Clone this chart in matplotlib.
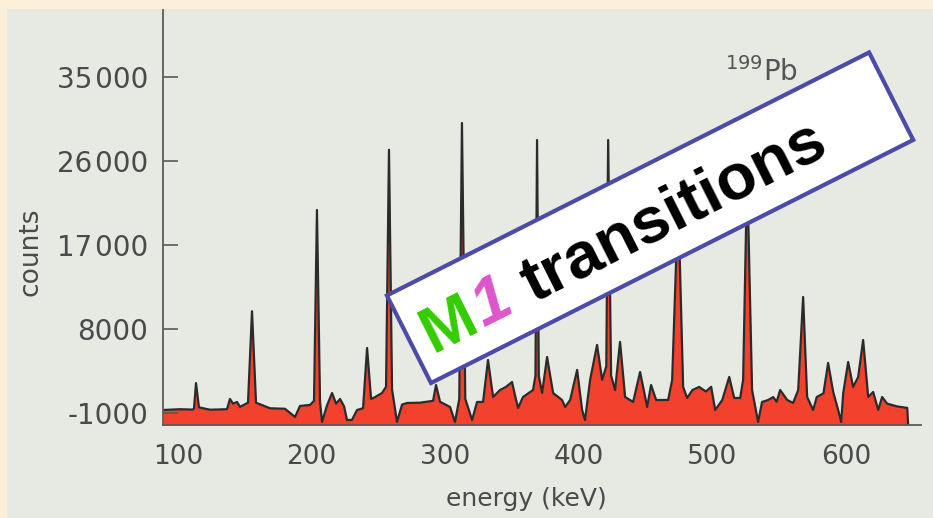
import numpy as np
import matplotlib
matplotlib.use('Agg')
import matplotlib.pyplot as plt
from matplotlib.patches import Rectangle
from matplotlib.transforms import IdentityTransform

# spectrum outline (keV, counts)
energy = [88.8, 101.5, 111.2, 112.0, 113.5, 115.7, 124.0, 136.7, 138.9, 141.2,
          144.2, 146.4, 152.4, 155.4, 158.4, 168.9, 180.1, 187.6, 191.3, 198.8,
          201.8, 204.0, 206.3, 207.8, 211.5, 215.3, 218.3, 221.3, 224.3, 226.5,
          230.2, 234.0, 238.5, 241.5, 244.5, 247.5, 252.7, 255.7, 257.9, 260.2,
          263.9, 267.7, 271.4, 281.1, 290.9, 293.1, 296.1, 303.6, 307.3, 310.5,
          312.5, 315.0, 320.1, 323.8, 328.3, 332.0, 335.8, 341.0, 345.5, 350.0,
          352.0, 354.5, 358.2, 365.7, 367.5, 368.7, 370.0, 372.5, 376.2, 380.7,
          387.4, 389.7, 393.5, 398.7, 402.4, 404.6, 408.4, 413.6, 417.4, 420.5,
          421.9, 424.1, 427.1, 430.8, 434.6, 440.6, 445.8, 451.1, 454.0, 457.8,
          466.8, 469.8, 474.3, 478.0, 481.0, 485.0, 490.0, 495.0, 499.0, 502.0,
          507.3, 512.5, 516.2, 520.7, 522.9, 525.9, 529.6, 534.1, 537.1, 541.6,
          545.4, 548.0, 550.6, 555.9, 560.3, 564.1, 567.8, 570.8, 575.3, 578.0,
          583.0, 586.5, 590.3, 594.0, 596.3, 597.8, 601.5, 605.2, 609.0, 612.7,
          616.5, 620.2, 624.0, 626.9, 630.7, 638.2, 645.7, 646.4]
counts = [-680, -600, -640, -500, 2200, -400, -650, -600, 500, 0,
          180, -350, 100, 9900, 100, -500, -550, -1430, -250, -140,
          300, 20750, 200, -1960, -200, 1140, 0, 500, -300, -1750,
          -1750, -680, -500, 5960, 500, 700, 1140, 1800, 27200, 1500,
          -1960, -100, 70, 100, 300, 2000, 200, -360, -1960, 500,
          30070, 500, -1750, 180, 180, 4680, 710, 1460, 1800, 2320,
          1000, -460, 710, 1460, 3000, 28250, 3000, 1140, 5000, 1140,
          390, -360, 400, 3610, -680, -1750, 2540, 6290, 2540, 4000,
          28250, 3000, 1460, 6610, 710, 180, 3390, -360, 2000, 390,
          390, 2540, 22000, 1790, 610, 1460, 1790, 1300, 1800, -680,
          390, 2860, 610, 610, 2540, 25000, 1460, -1960, 180, 390,
          700, 200, 1460, 390, 70, 1460, 11430, 710, -680, 710,
          1100, 4360, 1250, -680, -1960, 1140, 4460, 1790, 2860, 6820,
          710, 1250, -680, 710, 0, -300, -460, -2290]

yticks = [-1000, 8000, 17000, 26000, 35000]
ytick_labels = ['-1000', '8000', '17\u200a000', '26\u200a000', '35\u200a000']
xticks = [100, 200, 300, 400, 500, 600]

grey = '#4a4a4a'
floor = -2290

fig = plt.figure(figsize=(9.33, 5.18), dpi=100, facecolor='#fcefd9')
# scanned panel
fig.add_artist(Rectangle((7 / 933, 0), 1, 1 - 9 / 518, transform=fig.transFigure,
                         fc='#e7eae3', ec='none', zorder=0))

ax = fig.add_axes([163 / 933, 93 / 518, 758 / 933, 415 / 518])
ax.set_facecolor('none')
ax.fill_between(energy, counts, floor, color='#f2412c', lw=0)
ax.plot(energy, counts, color='#2b2b2b', lw=1.6)

ax.set_xlim(88.8, 656)
ax.set_ylim(floor, 42180)
for s in ['top', 'right']:
    ax.spines[s].set_visible(False)
for s in ['left', 'bottom']:
    ax.spines[s].set_color('#5a5a5a')
    ax.spines[s].set_linewidth(1.3)

ax.set_yticks(yticks)
ax.set_yticklabels(ytick_labels)
ax.set_xticks(xticks)
ax.tick_params(axis='y', direction='in', length=11, width=1.2, color='#5a5a5a',
               pad=10.5, labelsize=20, labelcolor=grey)
ax.tick_params(axis='x', length=0, pad=14, labelsize=19, labelcolor=grey)

ax.set_ylabel('counts', fontsize=19, color=grey)
ax.yaxis.set_label_coords(-0.157, 0.417)
ax.set_xlabel('energy (keV)', fontsize=18, color=grey)
ax.xaxis.set_label_coords(0.48, -0.149)

fig.text(725 / 933, 1 - 81 / 518, r'$^{199}$Pb', fontsize=20, color='#555555',
         ha='left', va='baseline')

# rotated label box (pixel coordinates)
ang = 26.75
th = np.radians(ang)
u = np.array([np.cos(th), np.sin(th)])
v = np.array([-np.sin(th), np.cos(th)])
corner = np.array([431.0, 135.0])
fig.add_artist(Rectangle(corner, 540, 98, angle=ang, transform=IdentityTransform(),
                         fc='white', ec='#4b4ba8', lw=3, zorder=5))

fs = 47
em = fs * 100 / 72
renderer = fig.canvas.get_renderer()
pos = corner + 15 * u + 26 * v
pieces = [('M', '#33cc00', 'normal', 0.04), ('1', '#dd55cc', 'italic', 0.3),
          ('transitions', 'black', 'normal', 0)]
for txt, col, style, gap in pieces:
    t = fig.text(pos[0], pos[1], txt, transform=IdentityTransform(), fontsize=fs,
                 fontweight='bold', fontstyle=style, color=col,
                 family='Liberation Sans', ha='left', va='baseline',
                 rotation=0, rotation_mode='anchor', zorder=6)
    w = t.get_window_extent(renderer).width
    t.set_rotation(ang)
    pos = pos + (w + gap * em) * u

fig.savefig('out.png', dpi=100, facecolor=fig.get_facecolor())
